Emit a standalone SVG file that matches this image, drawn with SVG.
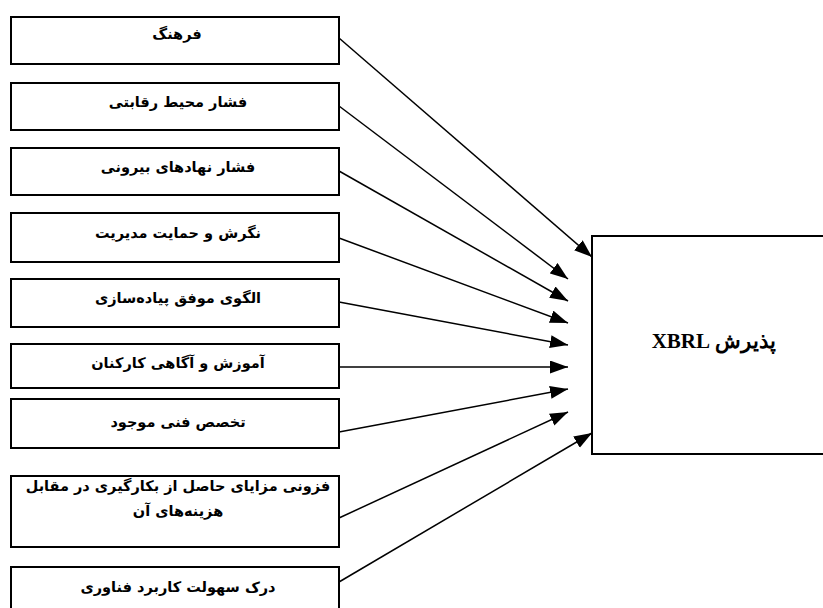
<svg xmlns="http://www.w3.org/2000/svg" width="823" height="608" viewBox="0 0 823 608">
<defs>
<style>
.box{fill:#fff;stroke:#000;stroke-width:2}
.lbl{font-family:"DejaVu Sans","Noto Sans",sans-serif;font-weight:bold;font-size:14.5px;text-anchor:middle;fill:#000}
.main{font-family:"Liberation Serif","DejaVu Serif",serif;font-weight:bold;font-size:21px;text-anchor:middle;fill:#000}
.conn line{stroke:#000;stroke-width:1.5;marker-end:url(#ah)}
</style>
<marker id="ah" markerUnits="userSpaceOnUse" markerWidth="18" markerHeight="14" refX="18" refY="6.5" orient="auto">
<path d="M0,0 L18,6.5 L0,13 z" fill="#000"/>
</marker>
</defs>
<rect width="823" height="608" fill="#fff"/>
<g id="n1"><rect class="box" x="11" y="17" width="328" height="47"/><text class="lbl" x="177" y="39" direction="rtl">فرهنگ</text></g>
<g id="n2"><rect class="box" x="11" y="83" width="328" height="47"/><text class="lbl" x="178" y="107" direction="rtl">فشار محیط رقابتی</text></g>
<g id="n3"><rect class="box" x="11" y="148" width="328" height="47"/><text class="lbl" x="178" y="172" direction="rtl">فشار نهادهای بیرونی</text></g>
<g id="n4"><rect class="box" x="11" y="213" width="328" height="49"/><text class="lbl" x="178" y="238" direction="rtl">نگرش و حمایت مدیریت</text></g>
<g id="n5"><rect class="box" x="11" y="279" width="328" height="48"/><text class="lbl" x="178" y="303" direction="rtl">الگوی موفق پیاده‌سازی</text></g>
<g id="n6"><rect class="box" x="11" y="344" width="328" height="44"/><text class="lbl" x="178" y="368" direction="rtl">آموزش و آگاهی کارکنان</text></g>
<g id="n7"><rect class="box" x="11" y="399" width="328" height="49"/><text class="lbl" x="178" y="427" direction="rtl">تخصص فنی موجود</text></g>
<g id="n8"><rect class="box" x="11" y="476" width="328" height="71"/><text class="lbl" x="178" y="491" direction="rtl">فزونی مزایای حاصل از بکارگیری در مقابل</text><text class="lbl" x="178" y="516" direction="rtl">هزینه‌های آن</text></g>
<g id="n9"><rect class="box" x="11" y="567" width="328" height="50"/><text class="lbl" x="178" y="592" direction="rtl">درک سهولت کاربرد فناوری</text></g>
<g id="target"><rect class="box" x="592" y="236" width="240" height="218"/><text class="main" x="714" y="348" direction="rtl">پذیرش XBRL</text></g>
<g id="connectors" class="conn">
<line x1="339" y1="38" x2="592" y2="257"/>
<line x1="339" y1="106" x2="568" y2="279"/>
<line x1="339" y1="171" x2="568" y2="301"/>
<line x1="339" y1="238" x2="568" y2="323"/>
<line x1="339" y1="302" x2="568" y2="345"/>
<line x1="339" y1="367" x2="568" y2="367"/>
<line x1="339" y1="432" x2="568" y2="389"/>
<line x1="339" y1="518" x2="568" y2="412"/>
<line x1="339" y1="582" x2="592" y2="433"/>
</g>
</svg>
